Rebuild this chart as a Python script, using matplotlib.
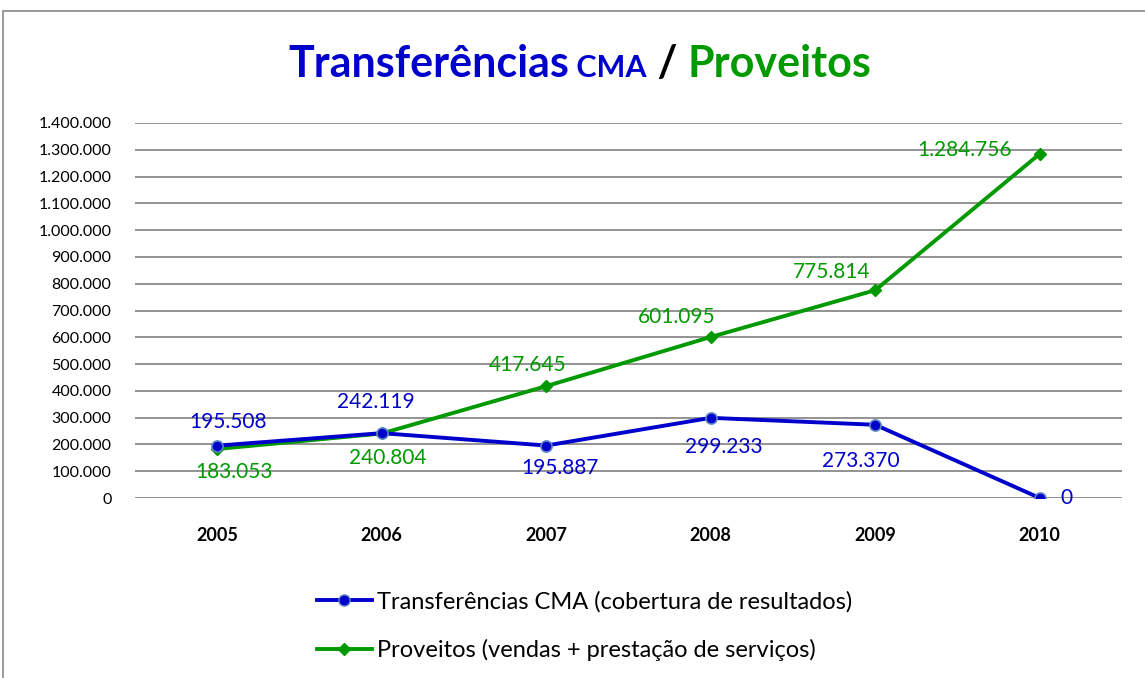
import matplotlib
matplotlib.use("Agg")
import matplotlib.pyplot as plt
from matplotlib.lines import Line2D
from matplotlib.patches import Rectangle

years = ["2005", "2006", "2007", "2008", "2009", "2010"]
transf = [195508, 242119, 195887, 299233, 273370, 0]
proveitos = [183053, 240804, 417645, 601095, 775814, 1284756]
transf_labels = ["195.508", "242.119", "195.887", "299.233", "273.370", "0"]
prov_labels = ["183.053", "240.804", "417.645", "601.095", "775.814", "1.284.756"]
yticks = list(range(0, 1400001, 100000))

BLUE = "#0000CC"
GREEN = "#009900"
FONT = "Lato"

def fmt(v):
    return f"{v:,}".replace(",", ".")

fig = plt.figure(figsize=(11.45, 6.78), dpi=100)
W, H = 1145, 678
# outer border (cut at right and bottom)
fig.patches.append(Rectangle((3 / W, -0.1), 1.2, 1 - 11 / H + 0.1, transform=fig.transFigure,
                             fill=False, edgecolor="#888888", linewidth=1.2))

ax = fig.add_axes([135 / W, 1 - 498 / H, (1122 - 135) / W, (498 - 123) / H])
x = list(range(len(years)))
ax.set_xlim(-0.5, len(years) - 0.5)
ax.set_ylim(0, 1400000)
ax.set_yticks(yticks)
ax.set_yticklabels([fmt(v) for v in yticks], fontfamily=FONT, fontsize=11.5)
ax.set_xticks(x)
ax.set_xticklabels(years, fontfamily=FONT, fontsize=13, fontweight="bold")
ax.tick_params(axis="y", length=0, pad=17)
ax.tick_params(axis="x", length=0, pad=21)
for s in ax.spines.values():
    s.set_visible(False)
ax.grid(axis="y", color="#8a8a8a", linewidth=1.3)
ax.set_axisbelow(True)

ax.plot(x, transf, color=BLUE, linewidth=2.8, marker="o", markersize=8,
        markerfacecolor=BLUE, markeredgecolor="#5b86c0", markeredgewidth=1.2, zorder=4)
ax.plot(x, proveitos, color=GREEN, linewidth=2.8, marker="D", markersize=6.5,
        markerfacecolor=GREEN, markeredgecolor=GREEN, zorder=3)

# label offsets in pixels (dx, dy)
t_off = [(11, 24), (-6, 31), (14, -22), (13, -29), (-14, -36), (27, 0)]
p_off = [(17, -23), (6, -25), (-19, 21), (-34, 20), (-44, 18), (-75, 4)]
for i in x:
    ax.annotate(transf_labels[i], (i, transf[i]), xytext=t_off[i], textcoords="offset pixels",
                ha="center", va="center", color=BLUE, fontsize=15, fontfamily=FONT, zorder=5)
    ax.annotate(prov_labels[i], (i, proveitos[i]), xytext=p_off[i], textcoords="offset pixels",
                ha="center", va="center", color=GREEN, fontsize=15, fontfamily=FONT, zorder=5)

# Title composed of parts
parts = [("Transferências", BLUE, 31), (" CMA", BLUE, 22), (" / ", "black", 31), ("Proveitos", GREEN, 31)]
fig.canvas.draw()
r = fig.canvas.get_renderer()
texts = []
for s, c, fs in parts:
    t = fig.text(0, 1 - 77 / H, s, color=c, fontsize=fs, fontweight="bold", fontfamily=FONT,
                 va="baseline", ha="left")
    texts.append(t)
widths = [t.get_window_extent(r).width for t in texts]
total = sum(widths)
cx = 580 - total / 2
for t, w in zip(texts, widths):
    t.set_x(cx / W)
    cx += w

# Legend
handles = [
    Line2D([], [], color=BLUE, linewidth=2.8, marker="o", markersize=8,
           markerfacecolor=BLUE, markeredgecolor="#5b86c0"),
    Line2D([], [], color=GREEN, linewidth=2.8, marker="D", markersize=6.5,
           markerfacecolor=GREEN, markeredgecolor=GREEN),
]
fig.legend(handles, ["Transferências CMA (cobertura de resultados)",
                     "Proveitos (vendas + prestação de serviços)"],
           loc="upper left", bbox_to_anchor=(305 / W, 1 - 579 / H), frameon=False,
           borderpad=0, prop={"family": FONT, "size": 17}, handlelength=2.33,
           handletextpad=0.2, labelspacing=1.13)

fig.savefig("out.png", dpi=100)
